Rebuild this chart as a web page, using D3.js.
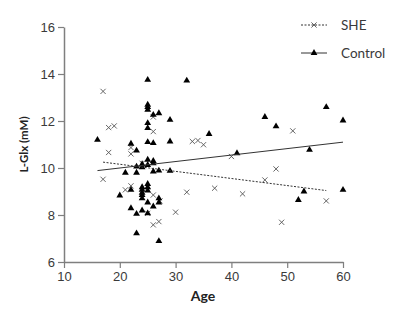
<!DOCTYPE html>
<html>
<head>
<meta charset="utf-8">
<script src="https://cdn.jsdelivr.net/npm/d3@7"></script>
<style>
  body { margin: 0; background: #fff; }
  svg { font-family: Lato, "Open Sans", sans-serif; }
</style>
</head>
<body>
<svg id="chart" width="400" height="320"></svg>
<script>
// SHE group: [age, L-Glx]
const sheAge = [17, 18, 19, 26, 26, 33, 34, 35, 22, 18, 22, 17, 21, 22, 24, 26, 27.2, 25, 26, 27, 30, 32, 37, 40, 42, 46, 48, 49, 51, 57];
const sheGlx = [13.26, 11.72, 11.79, 12.17, 11.55, 11.13, 11.17, 10.99, 10.87, 10.66, 10.6, 9.52, 9.07, 9.24, 10.2, 8.85, 8.6, 8.07, 7.58, 7.72, 8.12, 8.97, 9.14, 10.49, 8.9, 9.49, 9.96, 7.69, 11.58, 8.6];

// Control group
const ctlAge = [25, 32, 25, 25, 25, 26, 27, 29, 25, 25, 36, 16, 22, 23, 25, 26, 29, 57, 46, 48, 60, 54, 41, 53, 52, 60,
  21, 23, 23, 24, 24, 25, 25, 26, 26, 26, 27, 29, 20, 22, 24, 24, 24, 24, 24, 25, 25, 25, 27, 27, 25, 26, 22, 23, 24, 25, 23, 27];
const ctlGlx = [13.75, 13.72, 12.69, 12.59, 12.48, 12.26, 12.33, 12.05, 11.91, 11.7, 11.45, 11.2, 11.03, 10.74, 11.1, 11.06, 11.13, 12.59, 12.17, 11.77, 12.02, 10.77, 10.63, 9.0, 8.64, 9.07,
  9.8, 9.8, 10.06, 10.16, 10.03, 10.35, 10.13, 10.3, 10.2, 9.85, 9.89, 9.88, 8.83, 9.07, 9.18, 9.07, 8.95, 8.85, 8.71, 9.32, 9.18, 9.04, 8.71, 8.53, 8.53, 8.36, 8.29, 8.05, 8.19, 8.07, 7.22, 6.89];

// fitted lines
const sheFit = [[17, 10.25], [57, 9.04]];
const ctlFit = [[16, 9.89], [60, 11.1]];

const xTicks = [10, 20, 30, 40, 50, 60];
const yTicks = [6, 8, 10, 12, 14, 16];
const legendLabels = ["SHE", "Control"];

const svg = d3.select("#chart");
const x = d3.scaleLinear().domain([10, 60]).range([64, 343]);
const y = d3.scaleLinear().domain([6, 16]).range([262, 27]);

const axisColor = "#7f7f7f";
const textColor = "#3a3a3a";

const styleAxis = (g) => {
  g.select(".domain").attr("stroke", axisColor).attr("stroke-width", 1.5);
  g.selectAll(".tick line").attr("stroke", axisColor).attr("stroke-width", 1.2);
  g.selectAll(".tick text")
    .attr("fill", textColor)
    .style("font-size", "13px");
};

svg.append("g")
  .attr("transform", `translate(0, ${y(6)})`)
  .call(d3.axisBottom(x).tickValues(xTicks).tickSize(6).tickSizeOuter(0).tickPadding(4))
  .call(styleAxis);

svg.append("g")
  .attr("transform", `translate(${x(10)}, 0)`)
  .call(d3.axisLeft(y).tickValues(yTicks).tickSize(6).tickSizeOuter(0).tickPadding(3))
  .call(styleAxis);

// axis titles
svg.append("text")
  .attr("x", 203)
  .attr("y", 301)
  .attr("text-anchor", "middle")
  .attr("fill", "#222")
  .style("font-size", "14px")
  .style("font-weight", "700")
  .text("Age");

svg.append("text")
  .attr("transform", `translate(28, ${(y(6) + y(16)) / 2}) rotate(-90)`)
  .attr("text-anchor", "middle")
  .attr("fill", "#222")
  .style("font-size", "11.5px")
  .style("font-weight", "700")
  .text("L-Glx (mM)");

const line = d3.line().x((d) => x(d[0])).y((d) => y(d[1]));

const triangle = d3.symbol().type(d3.symbolTriangle).size(20);
const cross = (g, cx, cy, r) => {
  g.append("path")
    .attr("d", `M${cx - r},${cy - r}L${cx + r},${cy + r}M${cx - r},${cy + r}L${cx + r},${cy - r}`)
    .attr("stroke", "#555")
    .attr("stroke-width", 0.9)
    .attr("fill", "none");
};

// SHE points
const sheG = svg.append("g");
d3.zip(sheAge, sheGlx).forEach(([a, v]) => cross(sheG, x(a), y(v), 2.6));

// Control points
svg.append("g")
  .selectAll("path")
  .data(d3.zip(ctlAge, ctlGlx))
  .join("path")
  .attr("d", triangle)
  .attr("transform", (d) => `translate(${x(d[0])}, ${y(d[1])})`)
  .attr("fill", "#000");

// fit lines
svg.append("path")
  .attr("d", line(sheFit))
  .attr("fill", "none")
  .attr("stroke", "#333")
  .attr("stroke-width", 1)
  .attr("stroke-dasharray", "2,1.5");

svg.append("path")
  .attr("d", line(ctlFit))
  .attr("fill", "none")
  .attr("stroke", "#333")
  .attr("stroke-width", 1);

// legend
const legend = svg.append("g");
legendLabels.forEach((label, i) => {
  const ly = 25 + i * 28;
  legend.append("line")
    .attr("x1", 301).attr("x2", 327)
    .attr("y1", ly).attr("y2", ly)
    .attr("stroke", "#333")
    .attr("stroke-width", 1)
    .attr("stroke-dasharray", i === 0 ? "2,1.5" : null);
  if (i === 0) {
    cross(legend, 314, ly, 2.6);
  } else {
    legend.append("path")
      .attr("d", triangle)
      .attr("transform", `translate(314, ${ly})`)
      .attr("fill", "#000");
  }
  legend.append("text")
    .attr("x", 341)
    .attr("y", ly + 4.5)
    .attr("fill", textColor)
    .style("font-size", "13.5px")
    .text(label);
});
</script>
</body>
</html>
